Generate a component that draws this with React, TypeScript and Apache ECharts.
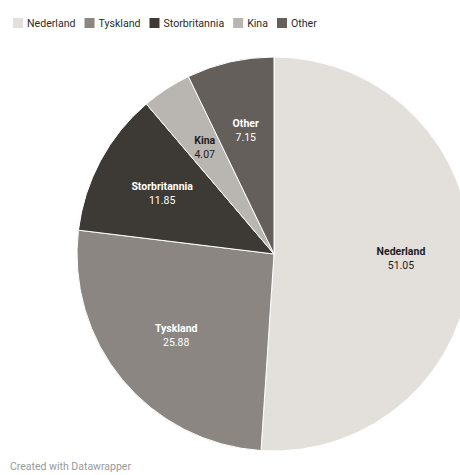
import React, { useEffect, useRef } from "react";
import * as echarts from "echarts";

const categories = ["Nederland", "Tyskland", "Storbritannia", "Kina", "Other"];
const values = [51.05, 25.88, 11.85, 4.07, 7.15];
const colors = ["#e3dfda", "#8b8682", "#3d3a35", "#b9b5b1", "#645f5a"];
const labelColors = ["#1d1d1d", "#ffffff", "#ffffff", "#1d1d1d", "#ffffff"];

const FONT = "Roboto, 'Noto Sans', sans-serif";

export default function App() {
  const ref = useRef<HTMLDivElement>(null);
  useEffect(() => {
    if (!ref.current) return;
    const chart = echarts.init(ref.current, null, { renderer: "svg" });
    const pieData = categories.map((name, i) => ({
      name,
      value: values[i],
      itemStyle: { color: colors[i] },
    }));
    const labelData = categories.map((name, i) => ({
      name,
      value: values[i],
      label: {
        color: labelColors[i],
        rich: {
          n: { fontFamily: FONT, fontSize: 10.5, fontWeight: "bold", color: labelColors[i], lineHeight: 14 },
          v: { fontFamily: FONT, fontSize: 10.5, color: labelColors[i], lineHeight: 14 },
        },
      },
    }));
    chart.setOption({
      animation: false,
      backgroundColor: "#ffffff",
      legend: {
        data: categories,
        left: 11,
        top: 16,
        itemWidth: 12,
        itemHeight: 12,
        itemGap: 7,
        padding: 0,
        icon: "rect",
        selectedMode: false,
        textStyle: { fontFamily: FONT, fontSize: 10.6, color: "#2a2a2a", padding: [0, 0, 0, -2] },
      },
      graphic: [
        {
          type: "text",
          left: 10,
          top: 461,
          style: { text: "Created with Datawrapper", fontFamily: FONT, fontSize: 10.5, fill: "#999999" },
        },
      ],
      series: [
        {
          type: "pie",
          center: [274, 254],
          radius: [0, 197],
          startAngle: 90,
          clockwise: true,
          label: { show: false },
          labelLine: { show: false },
          itemStyle: { borderColor: "#ffffff", borderWidth: 1 },
          emphasis: { disabled: true },
          data: pieData,
        },
        {
          type: "pie",
          center: [274, 254],
          radius: [51, 197],
          startAngle: 90,
          clockwise: true,
          silent: true,
          itemStyle: { color: "rgba(0,0,0,0)" },
          emphasis: { disabled: true },
          labelLine: { show: false },
          label: {
            show: true,
            position: "inside",
            formatter: (p: any) => `{n|${p.name}}\n{v|${p.value.toFixed(2)}}`,
          },
          data: labelData,
        },
      ],
    });
    return () => chart.dispose();
  }, []);
  return (
    <div
      ref={ref}
      style={{ position: "absolute", left: 0, top: 0, width: 460, height: 475 }}
    />
  );
}
